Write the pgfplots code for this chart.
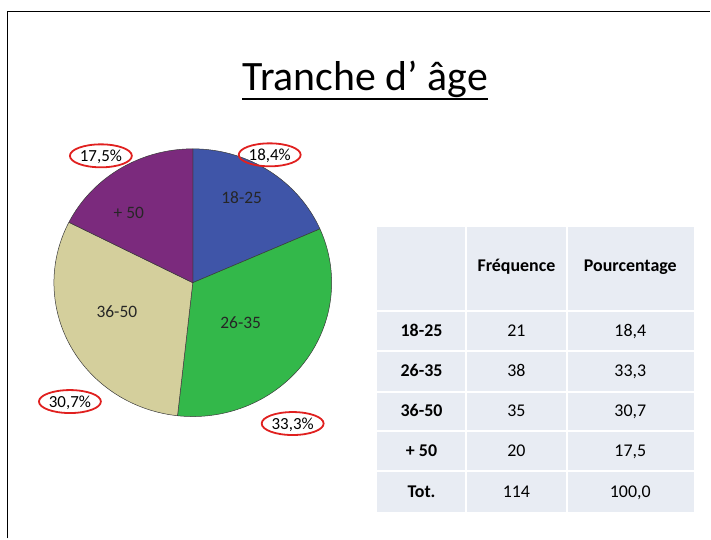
\documentclass[border=0pt]{standalone}
\usepackage{fontspec}
\setmainfont{Carlito}
\usepackage{pgfplots}
\pgfplotsset{compat=1.18}
\usepackage{pgfplotstable}
\definecolor{sA}{HTML}{3F55A8}
\definecolor{sB}{HTML}{33B84A}
\definecolor{sC}{HTML}{D4CF9C}
\definecolor{sD}{HTML}{7B2A7D}
\definecolor{edge}{HTML}{3A3A3A}
\definecolor{cell}{HTML}{E8ECF3}
\definecolor{ring}{HTML}{E0201F}
\tikzset{fx/.style={text height=0.63em, text depth=0pt, yshift=-3bp}}
% data: age group, frequency, percentage
\pgfplotstableread{
grp freq pct
18-25 21 18.4
26-35 38 33.3
36-50 35 30.7
+50 20 17.5
}\agedata
\begin{document}
\begin{tikzpicture}
\pgfplotstablegetelem{0}{freq}\of\agedata \let\fA\pgfplotsretval
\pgfplotstablegetelem{1}{freq}\of\agedata \let\fB\pgfplotsretval
\pgfplotstablegetelem{2}{freq}\of\agedata \let\fC\pgfplotsretval
\pgfplotstablegetelem{3}{freq}\of\agedata \let\fD\pgfplotsretval
\pgfmathsetmacro\tot{\fA+\fB+\fC+\fD}
\pgfmathsetmacro\aA{90}
\pgfmathsetmacro\aB{\aA-\fA/\tot*360}
\pgfmathsetmacro\aC{\aB-\fB/\tot*360}
\pgfmathsetmacro\aD{\aC-\fC/\tot*360}
\pgfmathsetmacro\aE{\aD-\fD/\tot*360}
\begin{axis}[
  x=1bp, y=1bp, scale only axis,
  xmin=0, xmax=711, ymin=0, ymax=539, y dir=reverse,
  hide axis, clip=false, enlargelimits=false,
  anchor=south west, at={(0,0)},
]
% frame
\draw[line width=1.6bp, black] (axis cs:7.5,539) -- (axis cs:7.5,11.5) -- (axis cs:711,11.5);
% pie slices
\addplot[fill=sA, draw=edge, line width=0.5bp, domain=\aB:\aA, samples=80, variable=\t]
  ({193+139*cos(\t)},{283-134*sin(\t)}) -- (axis cs:193,283) -- cycle;
\addplot[fill=sB, draw=edge, line width=0.5bp, domain=\aC:\aB, samples=80, variable=\t]
  ({193+139*cos(\t)},{283-134*sin(\t)}) -- (axis cs:193,283) -- cycle;
\addplot[fill=sC, draw=edge, line width=0.5bp, domain=\aD:\aC, samples=80, variable=\t]
  ({193+139*cos(\t)},{283-134*sin(\t)}) -- (axis cs:193,283) -- cycle;
\addplot[fill=sD, draw=edge, line width=0.5bp, domain=\aE:\aD, samples=80, variable=\t]
  ({193+139*cos(\t)},{283-134*sin(\t)}) -- (axis cs:193,283) -- cycle;
% slice labels
\node[fx, font=\fontsize{17.5}{20}\selectfont, text=black!85] at (axis cs:242,198) {18-25};
\node[fx, font=\fontsize{17.5}{20}\selectfont, text=black!85] at (axis cs:241,323) {26-35};
\node[fx, font=\fontsize{17.5}{20}\selectfont, text=black!85] at (axis cs:117,312) {36-50};
\node[fx, font=\fontsize{17.5}{20}\selectfont, text=black!85] at (axis cs:129,213) {+ 50};
% percentage labels with red rings
\draw[ring, line width=1.8bp] (axis cs:270,155) ellipse [x radius=31bp, y radius=11.5bp];
\node[fx, font=\fontsize{17}{20}\selectfont] at (axis cs:270,155) {18,4\%};
\draw[ring, line width=1.8bp] (axis cs:101,156) ellipse [x radius=31bp, y radius=11.5bp];
\node[fx, font=\fontsize{17}{20}\selectfont] at (axis cs:101,156) {17,5\%};
\draw[ring, line width=1.8bp] (axis cs:70,402) ellipse [x radius=31bp, y radius=11.5bp];
\node[fx, font=\fontsize{17}{20}\selectfont] at (axis cs:70,402) {30,7\%};
\draw[ring, line width=1.8bp] (axis cs:293,424) ellipse [x radius=31bp, y radius=11.5bp];
\node[fx, font=\fontsize{17}{20}\selectfont] at (axis cs:293,424) {33,3\%};
% title
\node[anchor=base, inner sep=0pt, font=\fontsize{42}{48}\selectfont] (title) at (axis cs:365.5,91) {Tranche d' âge};
\draw[line width=2.2bp] ([yshift=-8.5bp]title.base west) -- ([yshift=-8.5bp]title.base east);
% table
\fill[cell] (axis cs:377,227) rectangle (axis cs:695,513);
\draw[white, line width=2bp] (axis cs:467,227) -- (axis cs:467,513);
\draw[white, line width=2bp] (axis cs:568,227) -- (axis cs:568,513);
\draw[white, line width=2bp] (axis cs:377,311) -- (axis cs:695,311);
\draw[white, line width=2bp] (axis cs:377,351) -- (axis cs:695,351);
\draw[white, line width=2bp] (axis cs:377,392) -- (axis cs:695,392);
\draw[white, line width=2bp] (axis cs:377,431) -- (axis cs:695,431);
\draw[white, line width=2bp] (axis cs:377,472) -- (axis cs:695,472);
\node[fx, font=\fontsize{18}{20}\selectfont\bfseries] at (axis cs:517,266) {Fréquence};
\node[fx, font=\fontsize{18}{20}\selectfont\bfseries] at (axis cs:631,266) {Pourcentage};
\node[fx, font=\fontsize{18}{20}\selectfont\bfseries] at (axis cs:422,331) {18-25};
\node[fx, font=\fontsize{18}{20}\selectfont\bfseries] at (axis cs:422,371) {26-35};
\node[fx, font=\fontsize{18}{20}\selectfont\bfseries] at (axis cs:422,411) {36-50};
\node[fx, font=\fontsize{18}{20}\selectfont\bfseries] at (axis cs:422,451) {+ 50};
\node[fx, font=\fontsize{18}{20}\selectfont\bfseries] at (axis cs:422,492) {Tot.};
\node[fx, font=\fontsize{18}{20}\selectfont] at (axis cs:517,331) {21};
\node[fx, font=\fontsize{18}{20}\selectfont] at (axis cs:517,371) {38};
\node[fx, font=\fontsize{18}{20}\selectfont] at (axis cs:517,411) {35};
\node[fx, font=\fontsize{18}{20}\selectfont] at (axis cs:517,451) {20};
\node[fx, font=\fontsize{18}{20}\selectfont] at (axis cs:517,492) {114};
\node[fx, font=\fontsize{18}{20}\selectfont] at (axis cs:631,331) {18,4};
\node[fx, font=\fontsize{18}{20}\selectfont] at (axis cs:631,371) {33,3};
\node[fx, font=\fontsize{18}{20}\selectfont] at (axis cs:631,411) {30,7};
\node[fx, font=\fontsize{18}{20}\selectfont] at (axis cs:631,451) {17,5};
\node[fx, font=\fontsize{18}{20}\selectfont] at (axis cs:631,492) {100,0};
\end{axis}
\path (0,0) rectangle (711bp,539bp);
\end{tikzpicture}
\end{document}
